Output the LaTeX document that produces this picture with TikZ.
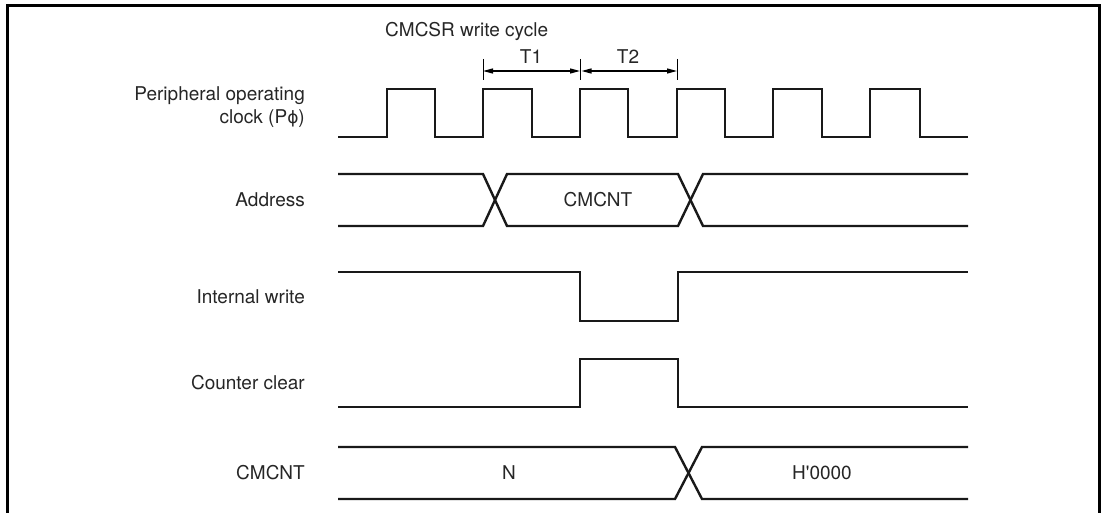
\documentclass[tikz,border=0pt]{standalone}
\usepackage{fontspec}
\setmainfont{TeX Gyre Heros}
\newfontfamily\dejavu{DejaVu Sans}
\usetikzlibrary{arrows.meta}
\begin{document}
\begin{tikzpicture}[x=1pt,y=-1pt,
  sig/.style={line width=2.4pt, line join=miter, color=black!90},
  frm/.style={line width=3pt},
  lbl/.style={font=\fontsize{19}{23}\selectfont, inner sep=0pt, text=black!85},
  tick/.style={line width=1pt},
  dim/.style={line width=1.3pt, {Triangle[length=10pt,width=5pt]}-{Triangle[length=10pt,width=5pt]}}]
\useasboundingbox (0,0) rectangle (1102,513);
% frame
\draw[frm] (7,513) -- (7,6) -- (1099,6) -- (1099,513);
% labels
\node[lbl, anchor=east, align=right] (lclk) at (305,107) {Peripheral operating\\clock (P{\dejavu\fontsize{17}{23}\selectfont\char"03D5})};
\node[lbl, anchor=east] (laddr) at (305,200) {Address};
\node[lbl, anchor=east] (lwr) at (305,297) {Internal write};
\node[lbl, anchor=east] (lclr) at (305,383) {Counter clear};
\node[lbl, anchor=east] (lcnt) at (305,473) {CMCNT};
\node[lbl, anchor=west] (lcyc) at (385,31) {CMCSR write cycle};
% T1/T2 dimension
\coordinate (ta) at (483,71);
\coordinate (tb) at (580,71);
\coordinate (tc) at (677,71);
\draw[tick] (483,59) -- (483,80);
\draw[tick] (580,59) -- (580,80);
\draw[tick] (677,59) -- (677,80);
\draw[dim] (ta) -- (tb);
\draw[dim] ([xshift=1.5pt]tb) -- (tc);
\node[lbl] (lt1) at (531,57) {T1};
\node[lbl] (lt2) at (628,57) {T2};
% clock
\draw[sig] (338,137) -| (387,89) -| (435,137) -| (483,89) -| (532,137) -| (580,89) -| (628,137) -| (677,89) -| (725,137) -| (773,89) -| (822,137) -| (870,89) -| (920,137) -- (968,137);
% address bus
\draw[sig] (338,174) -- (483,174) -- (507,226) -- (678,226) -- (703,174) -- (968,174);
\draw[sig] (338,226) -- (483,226) -- (507,174) -- (678,174) -- (703,226) -- (968,226);
\node[lbl] (vaddr) at (598,200) {CMCNT};
% internal write
\draw[sig] (338,272) -| (580,321) -| (678,272) -- (968,272);
% counter clear
\draw[sig] (338,407) -| (580,359) -| (678,407) -- (968,407);
% CMCNT bus
\draw[sig] (338,447) -- (675,447) -- (702,499) -- (968,499);
\draw[sig] (338,499) -- (675,499) -- (702,447) -- (968,447);
\node[lbl] (vn) at (509,473) {N};
\node[lbl] (vh) at (822,473) {H\textquotesingle 0000};
\end{tikzpicture}
\end{document}
